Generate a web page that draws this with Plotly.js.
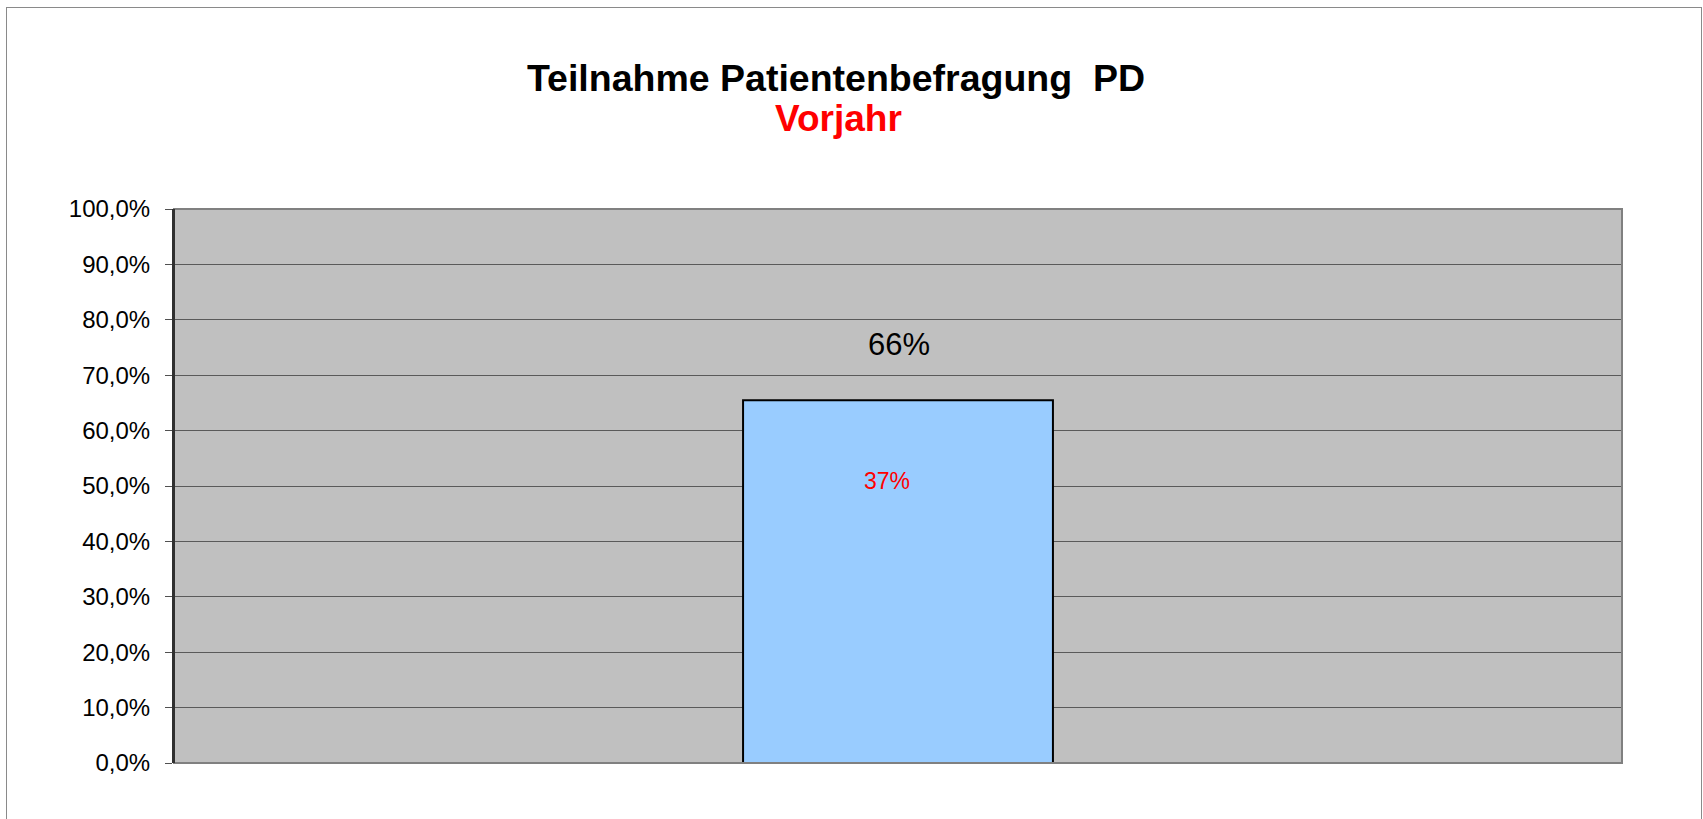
<!DOCTYPE html>
<html>
<head>
<meta charset="utf-8">
<script src="https://cdn.plot.ly/plotly-3.0.1.min.js"></script>
<style>
  html, body { margin: 0; padding: 0; background: #ffffff; }
  #chart { width: 1703px; height: 819px; position: relative; }
  #frame { position: absolute; left: 6px; top: 7px; width: 1694px; height: 830px; border: 1px solid #8a8a8a; pointer-events: none; }
</style>
</head>
<body>
<div id="chart"></div>
<div id="frame"></div>
<script>
// ---- data ----
const categories = ["PD"];
const participation = [0.655];
const participationLabels = ["66%"];
const previousYearLabels = ["37%"];
const titleText = "Teilnahme Patientenbefragung\u00a0 PD";
const subtitleText = "Vorjahr";

const FONT = "Liberation Sans, Arial, Helvetica, sans-serif";

const trace = {
  type: "bar",
  x: categories,
  y: participation,
  width: 0.214,
  marker: { color: "#99CCFF", line: { color: "#000000", width: 2 } },
  hoverinfo: "skip"
};

const annotations = [];
categories.forEach((c, i) => {
  annotations.push({
    x: c, y: participation[i], xref: "x", yref: "y",
    text: participationLabels[i], showarrow: false,
    xanchor: "center", yanchor: "middle", xshift: 1, yshift: 56,
    font: { family: FONT, size: 31, color: "#000000" }
  });
  annotations.push({
    x: c, y: participation[i], xref: "x", yref: "y",
    text: previousYearLabels[i], showarrow: false,
    xanchor: "center", yanchor: "middle", xshift: -11, yshift: -81,
    font: { family: FONT, size: 23, color: "#FF0000" }
  });
});
annotations.push({
  text: subtitleText, xref: "paper", yref: "paper",
  x: (838 - 174) / (1622 - 174), y: 1 + (209 - 119) / (763 - 209),
  xanchor: "center", yanchor: "middle", showarrow: false,
  font: { family: FONT, size: 37, color: "#FF0000", weight: "bold" }
});

const layout = {
  width: 1703, height: 819,
  margin: { l: 174, r: 81, t: 209, b: 56, pad: 0 },
  paper_bgcolor: "#ffffff",
  plot_bgcolor: "#C0C0C0",
  separators: ",.",
  showlegend: false,
  title: {
    text: titleText,
    xref: "container", yref: "container",
    x: 836 / 1703, y: 1 - 78 / 819,
    xanchor: "center", yanchor: "middle",
    font: { family: FONT, size: 37.5, color: "#000000", weight: "bold" }
  },
  xaxis: {
    showticklabels: false, showgrid: false, zeroline: false,
    ticks: "", showline: false, fixedrange: true
  },
  yaxis: {
    range: [0, 1], dtick: 0.1, tick0: 0, tickformat: ".1%",
    showgrid: true, gridcolor: "#5a5a5a", gridwidth: 1,
    zeroline: false,
    showline: true, linecolor: "#303030", linewidth: 2,
    ticks: "outside", ticklen: 7, tickwidth: 1, tickcolor: "#505050",
    ticklabelstandoff: 10,
    tickfont: { family: FONT, size: 24, color: "#000000" },
    fixedrange: true
  },
  shapes: [{
    type: "rect", xref: "paper", yref: "paper", x0: 0, x1: 1, y0: 0, y1: 1,
    line: { color: "#808080", width: 2 }, layer: "above"
  }, {
    type: "line", xref: "paper", yref: "paper", x0: 0, x1: 0, y0: 0, y1: 1,
    line: { color: "#303030", width: 2 }, layer: "above"
  }],
  annotations: annotations
};

Plotly.newPlot("chart", [trace], layout, { displayModeBar: false, staticPlot: true });
</script>
</body>
</html>
